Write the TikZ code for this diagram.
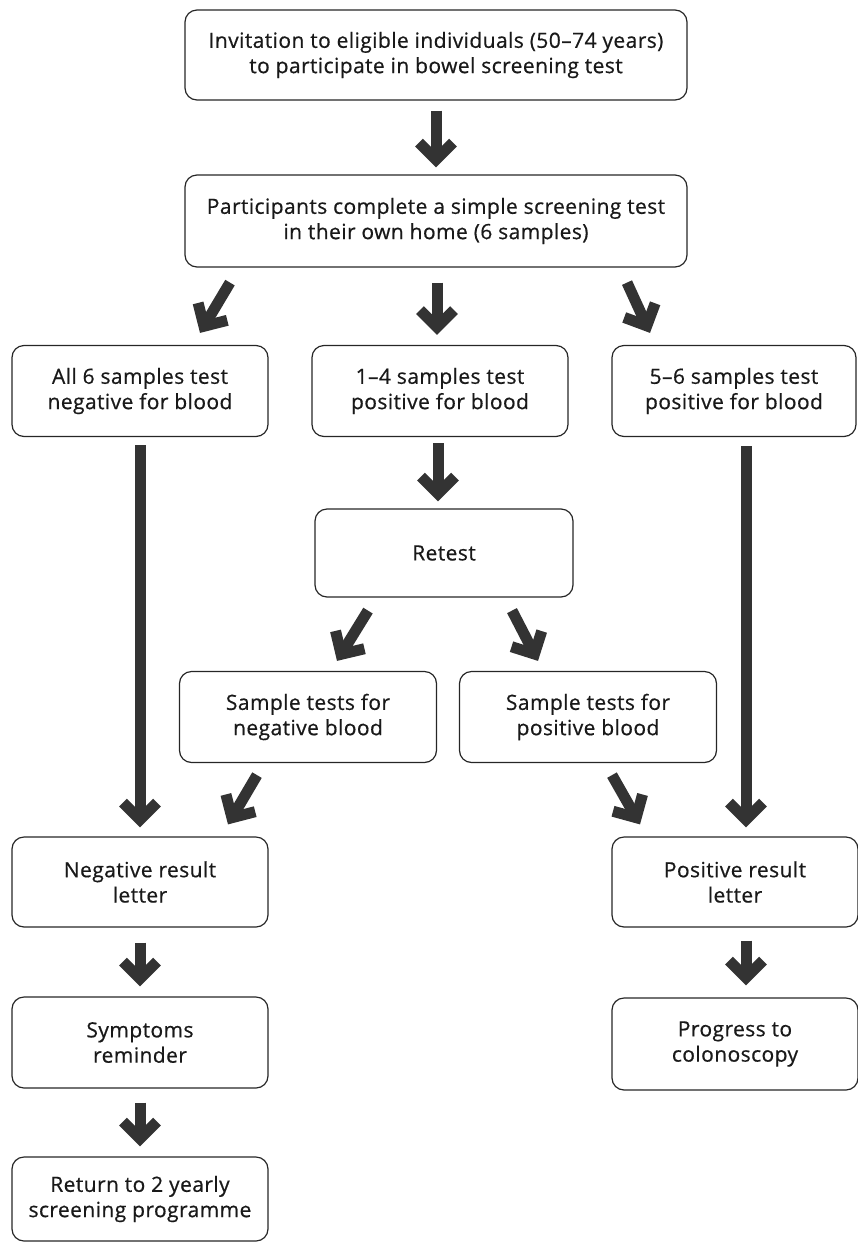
\documentclass[tikz,border=0pt]{standalone}
\usepackage{fontspec}
\setmainfont{Open Sans}[LetterSpace=2, FakeBold=0.6]
\usetikzlibrary{arrows.meta,calc}

\tikzset{
  stage/.style={draw=black!85, line width=1.2pt, rounded corners=12pt, align=center,
    inner sep=0pt, minimum width=256pt, minimum height=91pt, text=black!90,
    font=\fontsize{21}{25.3}\selectfont},
  widestage/.style={stage, minimum width=502pt},
  fat/.style={draw=black!80, line width=11pt,
    -{Straight Barb[length=17pt, width=34pt, line width=11pt, line join=miter, line cap=butt]}},
}

\begin{document}
\begin{tikzpicture}[x=1pt, y=-1pt]
    \useasboundingbox (0,0) rectangle (858,1243);

    % Invitation and home test
    \node[widestage, minimum height=90pt] (invite) at (436,55) {Invitation to eligible individuals (50–74 years)\\to participate in bowel screening test};
    \node[widestage, minimum height=92pt] (hometest) at (436,221) {Participants complete a simple screening test\\in their own home (6 samples)};

    % First results
    \node[stage] (allneg) at (140,391) {All 6 samples test\\negative for blood};
    \node[stage] (somepos) at (440,391) {1–4 samples test\\positive for blood};
    \node[stage, minimum width=244pt] (mostpos) at (734,391) {5–6 samples test\\positive for blood};

    % Retest
    \node[stage, minimum width=258pt, minimum height=88pt] (retest) at (444,553) {Retest};
    \node[stage, minimum width=257pt] (retestneg) at (308,717) {Sample tests for\\negative blood};
    \node[stage, minimum width=257pt] (retestpos) at (588,717) {Sample tests for\\positive blood};

    % Letters
    \node[stage, minimum height=90pt] (negletter) at (140,882) {Negative result\\letter};
    \node[stage, minimum width=246pt, minimum height=90pt] (posletter) at (735,882) {Positive result\\letter};

    % Follow-up
    \node[stage] (reminder) at (140,1042.5) {Symptoms\\reminder};
    \node[stage, minimum width=246pt, minimum height=92pt] (colon) at (735,1044) {Progress to\\colonoscopy};
    \node[stage, minimum height=84pt] (yearly) at (140,1199) {Return to 2 yearly\\screening programme};

    % Fat arrows
    \draw[fat] ($(invite.south)+(0,10)$) -- ($(hometest.north)+(0,-7)$);
    \draw[fat] ($(hometest.south)+(-206,15)$) -- ($(allneg.north)+(60,-12)$);
    \draw[fat] ($(hometest.south)+(1,15)$) -- ($(somepos.north)+(-3,-10)$);
    \draw[fat] ($(hometest.south)+(191,15)$) -- ($(mostpos.north)+(-84,-12)$);

    \draw[fat] ($(allneg.south)+(0,8)$) -- ($(negletter.north)+(0,-9)$);
    \draw[fat] ($(somepos.south)+(-2,6)$) -- ($(retest.north)+(-6,-7)$);
    \draw[fat] ($(mostpos.south)+(12,9)$) -- ($(posletter.north)+(11,-9)$);

    \draw[fat] ($(retest.south)+(-76,13)$) -- ($(retestneg.north)+(29,-10)$);
    \draw[fat] ($(retest.south)+(68,13)$) -- ($(retestpos.north)+(-50,-10)$);
    \draw[fat] ($(retestneg.south)+(-51,12)$) -- ($(negletter.north)+(88,-12)$);
    \draw[fat] ($(retestpos.south)+(24,12)$) -- ($(posletter.north)+(-95,-12)$);

    \draw[fat] ($(negletter.south)+(0,15)$) -- ($(reminder.north)+(0,-10)$);
    \draw[fat] ($(reminder.south)+(0,14)$) -- ($(yearly.north)+(0,-10)$);
    \draw[fat] ($(posletter.south)+(11,13)$) -- ($(colon.north)+(11,-12)$);

\end{tikzpicture}
\end{document}
